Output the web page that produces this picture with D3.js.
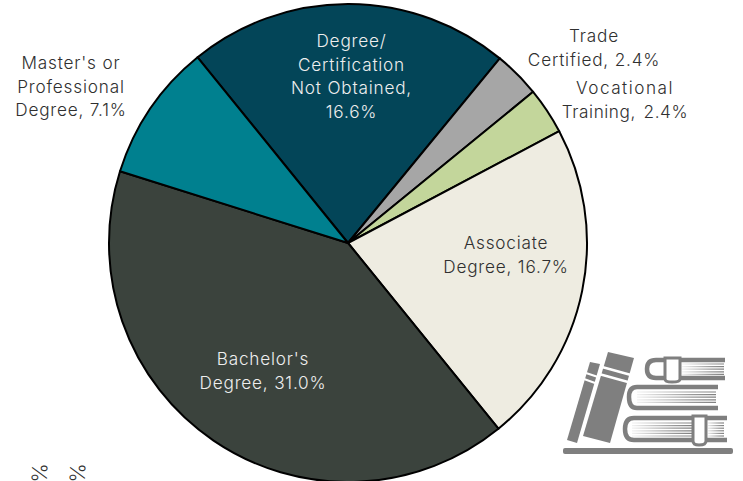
<!DOCTYPE html>
<html><head><meta charset="utf-8">
<script src="https://cdn.jsdelivr.net/npm/d3@7"></script>
<style>html,body{margin:0;padding:0;background:#fff;overflow:hidden}svg{display:block}
text{font-family:"Inter","Open Sans",sans-serif;font-weight:300;font-size:17.2px;letter-spacing:.8px;text-anchor:middle;dominant-baseline:central}</style>
</head><body><svg id="c" width="743" height="481"></svg>
<script>
const categories=["Degree/Certification Not Obtained","Trade Certified","Vocational Training","Associate Degree","Bachelor's Degree","Master's or Professional Degree"];
const values=[16.6,2.4,2.4,16.7,31.0,7.1];
const colors=["#034558","#a6a6a6","#c3d69b","#eeece1","#3b433d","#00808f"];
const labelLines=[["Degree/","Certification","Not Obtained,","16.6%"],["Trade","Certified, 2.4%"],["Vocational","Training,  2.4%"],["Associate","Degree, 16.7%"],["Bachelor's","Degree, 31.0%"],["Master's or","Professional","Degree, 7.1%"]];
const labelX=[351.5,594,625,506,263,71];
const labelY=[40,35,87,242,358,62];
const labelColors=["#eeeeee","#303030","#303030","#303030","#eeeeee","#303030"];
const hiddenLabels=["0%","0%"];
const hiddenX=[40,78];

const svg=d3.select("#c");
const cx=348,cy=243,R=239;
const start=-39*Math.PI/180;
const pie=d3.pie().sort(null).startAngle(start).endAngle(start+2*Math.PI);
const arc=d3.arc().innerRadius(0).outerRadius(R);
svg.append("g").attr("transform",`translate(${cx},${cy})`)
  .selectAll("path").data(pie(values)).join("path")
  .attr("d",arc).attr("fill",(d,i)=>colors[i]).attr("stroke","#000").attr("stroke-width",2).attr("stroke-linejoin","round");

labelLines.forEach((lines,i)=>{
  const t=svg.append("text").attr("fill",labelColors[i]);
  if(i===2) t.style("letter-spacing",".55px").style("word-spacing","-1.5px");
  lines.forEach((l,j)=>{
    const s=t.append("tspan").attr("x",labelX[i]).attr("y",labelY[i]+j*23.7).style("white-space","pre").text(l);
    if(i===2&&j===0) s.style("letter-spacing","1.5px");
  });
});

// zero-value labels that run off the bottom edge, as in the reference
hiddenLabels.forEach((s,i)=>{
  svg.append("text").attr("transform",`translate(${hiddenX[i]},463) rotate(-88)`).attr("fill","#303030").style("text-anchor","end").style("letter-spacing",0).style("font-size","21px").text(s);
});

// book icon
const g="#7f7f7f";
const icon=svg.append("g");
const defs=svg.append("defs");
const grad=(id,x1,x2)=>{const lg=defs.append("linearGradient").attr("id",id).attr("gradientUnits","userSpaceOnUse").attr("x1",x1).attr("x2",x2).attr("y1",0).attr("y2",0);
  lg.append("stop").attr("offset",0).attr("stop-color",g).attr("stop-opacity",.1);lg.append("stop").attr("offset",.7).attr("stop-color",g).attr("stop-opacity",.8);lg.append("stop").attr("offset",1).attr("stop-color",g);};
grad("gA",682,724);grad("gB",637,716);grad("gD",632,692);grad("gE",707,724);
icon.append("rect").attr("x",563).attr("y",448).attr("width",170).attr("height",6).attr("rx",2).attr("fill",g);
icon.append("path").attr("fill",g).attr("d","M590,362L600,364L577,443L567,440Z");
icon.append("path").attr("fill",g).attr("d","M608,352L634,358L610,443L583,436Z");
icon.append("path").attr("d","M586,373L598,377M584,379L595,383").attr("stroke","#fff").attr("stroke-width",2);
icon.append("path").attr("d","M602,367L631,375M599,374L628,382").attr("stroke","#fff").attr("stroke-width",2.4);
const outl=d=>icon.append("path").attr("d",d).attr("fill","none").attr("stroke",g).attr("stroke-width",4.5);
outl("M725,360H656Q647,360 647,369Q647,378 656,378H725");
outl("M718,387H637Q629,387 629,397Q629,408 637,408H718");
outl("M727,418H634Q625,418 625,429Q625,440 634,440H727");
icon.append("path").attr("d","M665,358H680V379Q680,382 672,382Q665,382 665,379Z").attr("fill","#fff").attr("stroke",g).attr("stroke-width",3);
icon.append("path").attr("d","M693,416H706V441Q706,445 699,445Q693,445 693,441Z").attr("fill","#fff").attr("stroke",g).attr("stroke-width",3);
const hatch=(x1,x2,y1,y2,id)=>{icon.append("g").selectAll("line").data(d3.range(y1,y2,2.6)).join("line").attr("x1",x1).attr("x2",x2).attr("y1",d=>d).attr("y2",d=>d).attr("stroke",`url(#${id})`).attr("stroke-width",1.2);};
hatch(682,724,364,376,"gA");
hatch(637,716,392,405,"gB");
hatch(632,692,423,437,"gD");
hatch(708,724,423,437,"gE");
</script></body></html>
